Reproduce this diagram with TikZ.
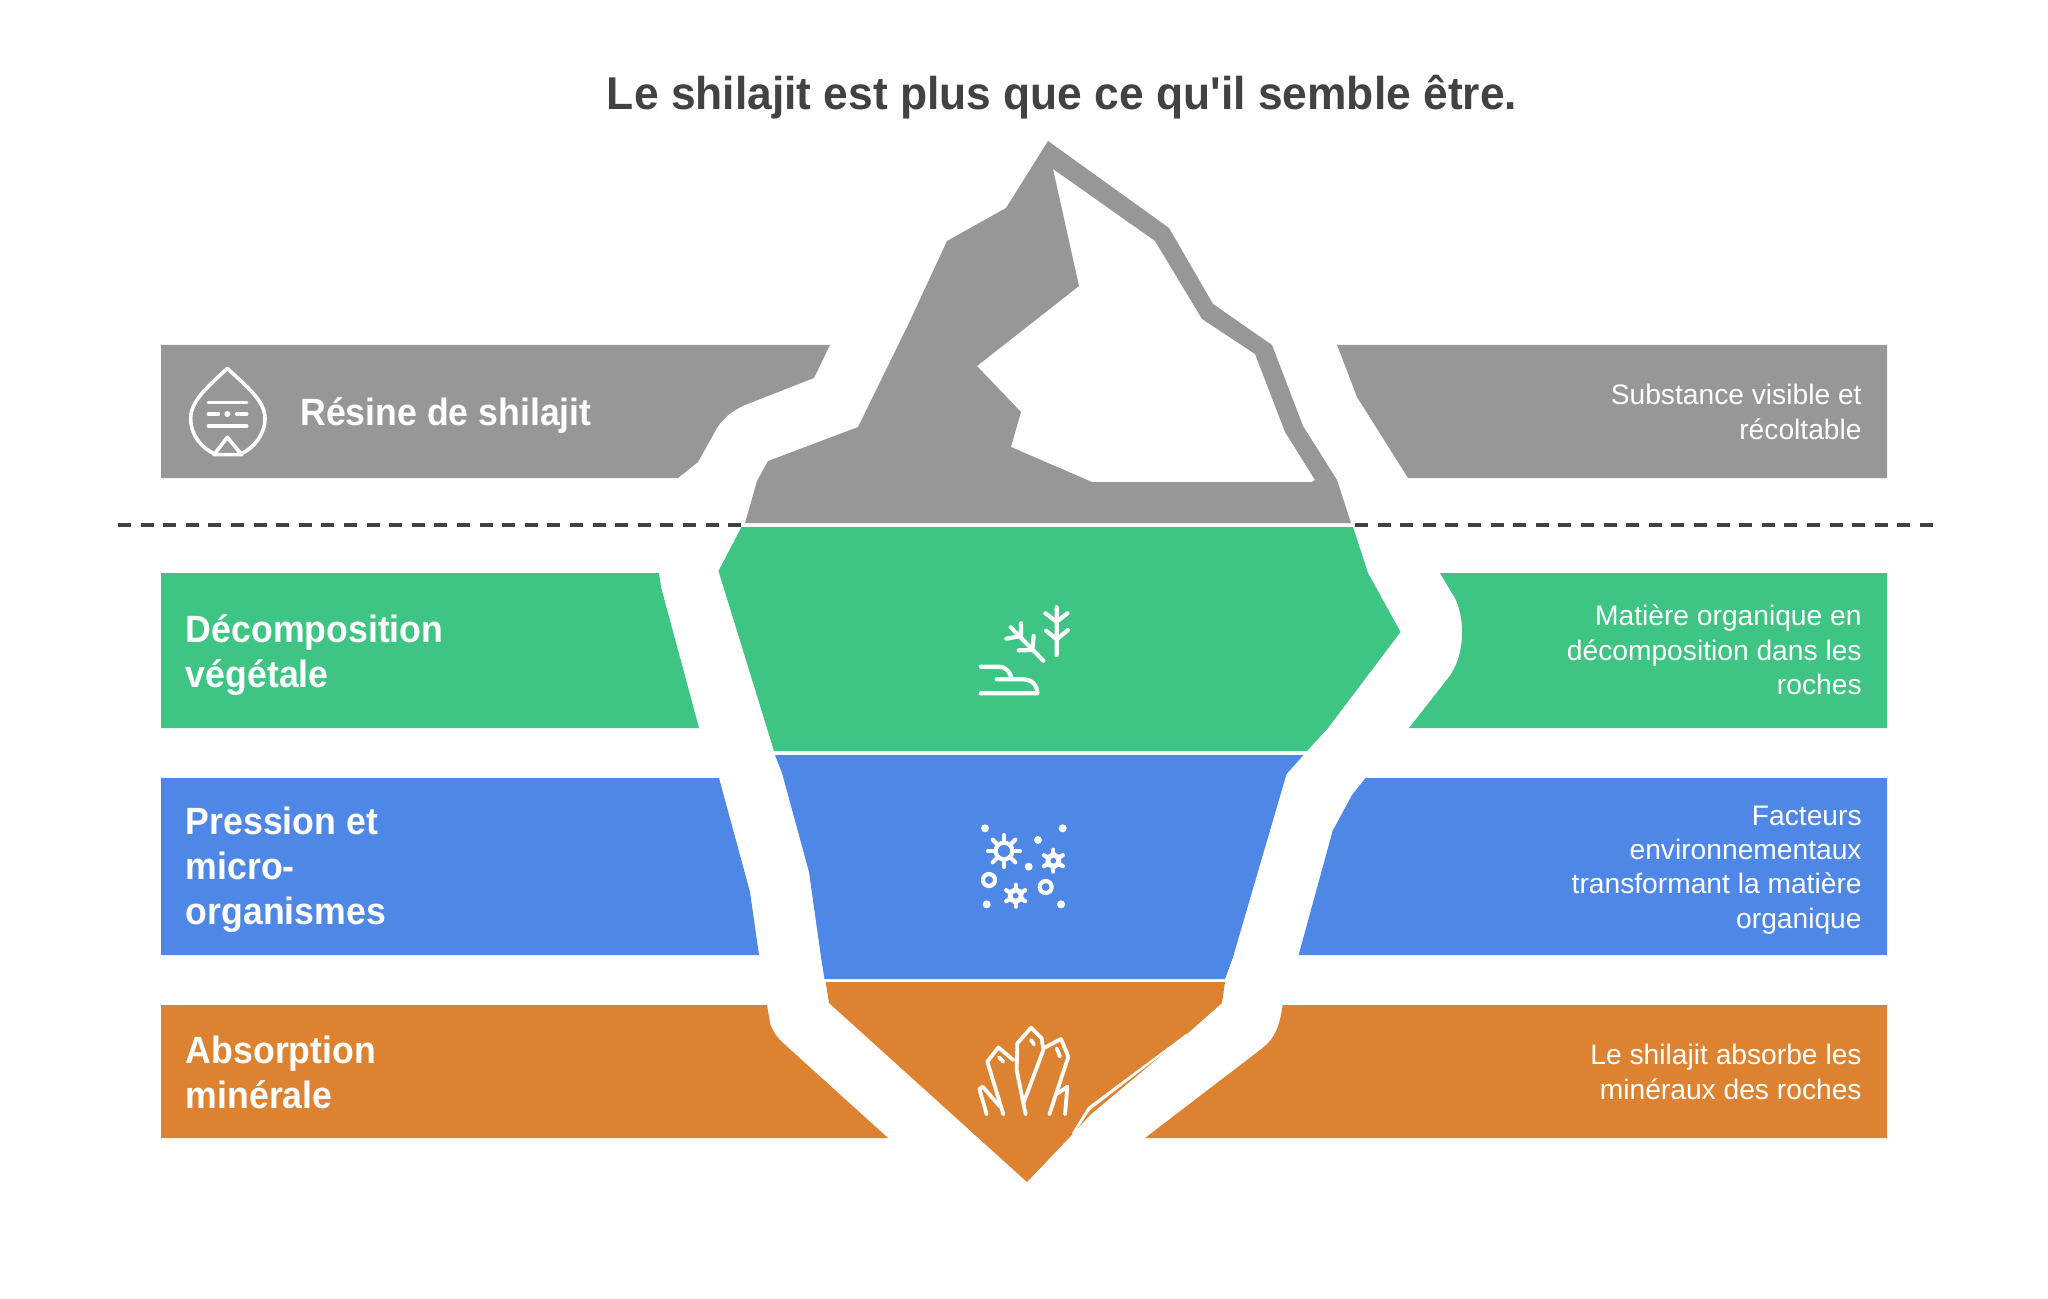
\documentclass[tikz,border=0pt]{standalone}
\usepackage{fontspec}
\setmainfont[Ligatures=TeXOff]{Liberation Sans}
\usetikzlibrary{calc}
\definecolor{cgray}{HTML}{979797}
\definecolor{cgreen}{HTML}{3FC583}
\definecolor{cblue}{HTML}{4E87E5}
\definecolor{corange}{HTML}{DD8230}
\definecolor{cdark}{HTML}{424242}
\tikzset{
  px/.style={x=0.5pt,y=-0.5pt},
  zoomed/.style={x=0.16667pt,y=-0.16667pt},
  iconline/.style={draw=white,line width=2.1pt,line cap=round,line join=round},
  crystalline/.style={draw=white,line width=1.9pt,line cap=round,line join=round},
  resinline/.style={draw=white,line width=1.8pt,line cap=round,line join=round},
  headlabel/.style={text=white,font=\fontsize{19}{22.5}\selectfont\bfseries\addfontfeature{FakeStretch=0.938},align=left,anchor=west,inner sep=0pt},
  sidelabel/.style={text=white,font=\fontsize{14.1}{17.2}\selectfont,align=right,anchor=east,inner sep=0pt},
  titlelabel/.style={text=cdark,font=\fontsize{23}{27}\selectfont\bfseries\addfontfeature{FakeStretch=0.964},inner sep=0pt},
  waterline/.style={draw=cdark,line width=2pt,dash pattern=on 6.5pt off 4.8pt},
}
\begin{document}
\begin{tikzpicture}[px]
\useasboundingbox (0,0) rectangle (2048,1299);
\node[titlelabel] (title) at (1062,97) {Le shilajit est plus que ce qu'il semble être.};

% left bands
\fill[cgray] (161,345) -- (830,345) -- (814,378) -- (745,405) .. controls (732,411) and (724,417) .. (717,428) -- (698,462) -- (678,478) -- (161,478) -- cycle;
\fill[cgreen] (161,573) -- (659,573) -- (661,587) -- (699,728) -- (161,728) -- cycle;
\fill[cblue] (161,778) -- (719,778) -- (750,892) -- (759,955) -- (161,955) -- cycle;
\fill[corange] (161,1005) -- (767,1005) -- (770,1023) .. controls (773,1032) and (776,1036) .. (782,1042) -- (888,1138) -- (161,1138) -- cycle;
% right bands
\fill[cgray] (1337,345) -- (1887,345) -- (1887,478) -- (1408,478) -- (1357,397) -- cycle;
\fill[cgreen] (1440,573) -- (1887,573) -- (1887,728) -- (1409,728) -- (1449,677) .. controls (1458,664) and (1462,650) .. (1462,632) .. controls (1462,620) and (1460,610) .. (1456,600) -- cycle;
\fill[cblue] (1365.5,778) -- (1887,778) -- (1887,955) -- (1298.6,955) -- (1332.6,831) -- (1352,795) -- cycle;
\fill[corange] (1282.6,1005) -- (1887,1005) -- (1887,1138) -- (1145,1138) -- (1260,1050) .. controls (1272,1041) and (1279,1032) .. (1282.6,1005) -- cycle;

% iceberg layers
\fill[cgray,even odd rule] (1048,141) -- (1169,228) -- (1213,304) -- (1272,345) -- (1303,426) -- (1337,480) -- (1351,523) -- (745,523) -- (757,481) -- (768,461) -- (858,427) -- (908,325) -- (947,241) -- (1006,208) -- cycle
  (1053,169) -- (1155,241) -- (1202,319) -- (1255,354) -- (1285,432) -- (1315,480) -- (1312,482) -- (1092,482) -- (1011,447) -- (1021,412) -- (977,366) -- (1079,286) -- cycle;
\fill[cgreen] (741.5,527) -- (1353,527) -- (1368,573) -- (1400.5,632) -- (1328,728) -- (1307,751) -- (774,751) -- (718.5,571) -- cycle;
\fill[cblue] (775,755) -- (1303.5,755) -- (1286.5,774) -- (1233,957) -- (1225,979) -- (824.5,979) -- (821,957) -- (809,872) -- (782,773) -- cycle;
\fill[corange] (825.7,982) -- (1225,982) -- (1222,1003) -- (1188,1033) -- (1090,1115) -- (1067,1140) -- (1027,1182) -- (829,1003) -- cycle;
\fill[white] (1186,1034) -- (1088,1107) -- (1072,1133) -- (1074,1134) -- (1090,1110) -- (1186,1036) -- cycle;

% water line
\coordinate (wl1) at (118,525);
\coordinate (wl2) at (741,525);
\coordinate (wr1) at (1355,525);
\coordinate (wr2) at (1941,525);
\draw[waterline] (wl1) -- (wl2);
\draw[waterline] (wr1) -- (wr2);

% labels
\node[headlabel] (h1) at (300,416) {Résine de shilajit};
\node[headlabel] (h2) at (185.5,655) {Décomposition\\végétale};
\node[headlabel] (h3) at (185.5,870) {Pression et\\micro-\\organismes};
\node[headlabel] (h4) at (185.5,1072) {Absorption\\minérale};
\node[sidelabel] (s1) at (1862,412) {Substance visible et\\récoltable};
\node[sidelabel] (s2) at (1862,650) {Matière organique en\\décomposition dans les\\roches};
\node[sidelabel] (s3) at (1862,870) {Facteurs\\environnementaux\\transformant la matière\\organique};
\node[sidelabel] (s4) at (1862,1072) {Le shilajit absorbe les\\minéraux des roches};

% resin icon
\begin{scope}[shift={(170,350)},zoomed]
\draw[resinline] (135,312) .. controls (95,295) and (62,255) .. (62,205) .. controls (62,150) and (120,105) .. (172,55) .. controls (224,105) and (285,150) .. (285,205) .. controls (285,255) and (250,295) .. (212,312);
\draw[resinline] (132,314) -- (172,262) -- (215,314) -- cycle;
\draw[resinline] (115,158) -- (230,158) (115,192) -- (145,192) (200,192) -- (230,192) (115,228) -- (230,228);
\fill[white] (172,192) circle (9);
\end{scope}

% plant icon
\begin{scope}[shift={(940,580)},zoomed]
\draw[iconline] (350,82) -- (350,225) (316,100) -- (350,125) -- (382,100) (318,152) -- (350,178) -- (384,150);
\draw[iconline] (212,142) -- (310,242) (243,130) -- (243,168) -- (199,176) (281,168) -- (277,210) -- (236,211);
\draw[iconline] (122,260) -- (178,260) .. controls (198,260) and (212,278) .. (215,298) (170,298) -- (250,298) .. controls (275,298) and (292,315) .. (292,340) -- (122,340);
\end{scope}

% particle icon
\begin{scope}[shift={(950,810)},zoomed]
\foreach \cx/\cy in {105/55,338/55,264/90,236/170,110/283,333/283} \fill[white] (\cx,\cy) circle (12);
\draw[iconline] (162,123) circle (25);
\foreach \a in {0,45,...,315} \draw[iconline] ($(162,123)+(\a:25)$) -- ($(162,123)+(\a:48)$);
\foreach \cx/\cy in {310/152,197/257} {
  \draw[iconline] (\cx,\cy) circle (16);
  \foreach \a in {30,90,...,330} \draw[iconline] ($(\cx,\cy)+(\a:16)$) -- ($(\cx,\cy)+(\a:33)$);
  \foreach \a in {0,60,...,300} \draw[iconline,line width=1.3pt] ($(\cx,\cy)+(\a+30:24)$) -- ($(\cx,\cy)+(\a:19)$) -- ($(\cx,\cy)+(\a-30:24)$);
}
\draw[iconline] (117,210) circle (18);
\draw[iconline] (287,231) circle (18);
\end{scope}

% crystal icon
\begin{scope}[shift={(960,1015)},zoomed]
\draw[crystalline] (197,298) -- (190,265) -- (170,165) -- (172,85) -- (213,38) -- (245,70) -- (250,105) -- (190,265);
\draw[crystalline] (213,75) -- (222,88);
\draw[crystalline] (130,298) -- (82,140) -- (115,97) -- (160,135);
\draw[crystalline] (117,127) -- (130,140);
\draw[crystalline] (80,298) -- (58,222) -- (68,215) -- (120,275);
\draw[crystalline] (250,100) -- (303,72) -- (325,125) -- (268,298);
\draw[crystalline] (290,100) -- (300,125);
\draw[crystalline] (293,235) -- (322,215) -- (315,298);
\end{scope}
\end{tikzpicture}
\end{document}
